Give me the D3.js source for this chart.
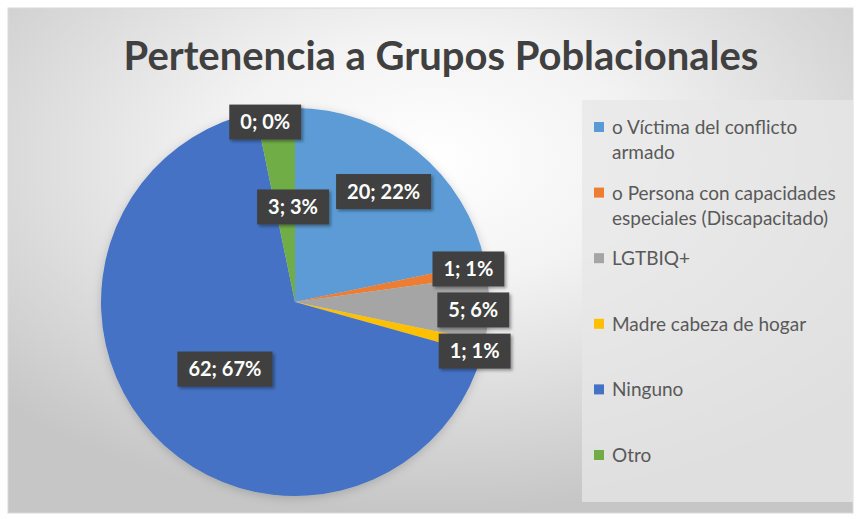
<!DOCTYPE html>
<html>
<head>
<meta charset="utf-8">
<script src="https://cdn.jsdelivr.net/npm/d3@7"></script>
<style>
  html, body { margin: 0; padding: 0; background: #ffffff; }
  svg { display: block; }
</style>
</head>
<body>
<svg id="chart" width="856" height="519"></svg>
<script>
// ---- data ----
const title = "Pertenencia a Grupos Poblacionales";
const categories = [
  "o Víctima del conflicto armado",
  "o Persona con capacidades especiales (Discapacitado)",
  "LGTBIQ+",
  "Madre cabeza de hogar",
  "Ninguno",
  "Otro",
  ""
];
const legendLines = [
  ["o Víctima del conflicto", "armado"],
  ["o Persona con capacidades", "especiales (Discapacitado)"],
  ["LGTBIQ+"],
  ["Madre cabeza de hogar"],
  ["Ninguno"],
  ["Otro"]
];
const values = [20, 1, 5, 1, 62, 3, 0];
const percentLabels = ["22%", "1%", "6%", "1%", "67%", "3%", "0%"];
const colors = ["#5B9BD5", "#ED7D31", "#A5A5A5", "#FFC000", "#4472C4", "#70AD47", "#255E91"];

// ---- layout (label placement relative to slices) ----
const labelRadiusFactor = [0.73, 0.91, 0.92, 0.96, 0.50, 0.49, 0.94];
const labelAngleShiftDeg = [-0.4, -1.0, 0.6, 1.6, -0.7, 4.7, -9.4];

const W = 856, H = 519;
const svg = d3.select("#chart");
const defs = svg.append("defs");

const bg = defs.append("radialGradient").attr("id", "bgGrad")
  .attr("cx", "50%").attr("cy", "30%").attr("r", "70%");
bg.append("stop").attr("offset", "0%").attr("stop-color", "#ffffff");
bg.append("stop").attr("offset", "35%").attr("stop-color", "#f3f3f3");
bg.append("stop").attr("offset", "100%").attr("stop-color", "#c6c6c6");

const sh = defs.append("filter").attr("id", "shadow")
  .attr("x", "-20%").attr("y", "-20%").attr("width", "140%").attr("height", "140%");
sh.append("feDropShadow").attr("dx", 2).attr("dy", 2).attr("stdDeviation", 1.5)
  .attr("flood-color", "#000").attr("flood-opacity", 0.35);

const pieShadow = defs.append("filter").attr("id", "pieShadow")
  .attr("x", "-20%").attr("y", "-20%").attr("width", "140%").attr("height", "140%");
pieShadow.append("feDropShadow").attr("dx", 0).attr("dy", 2).attr("stdDeviation", 5)
  .attr("flood-color", "#000").attr("flood-opacity", 0.18);

// frame background
svg.append("rect").attr("x", 8).attr("y", 8).attr("width", 845).attr("height", 505)
  .attr("fill", "url(#bgGrad)").attr("stroke", "#d9d9d9").attr("stroke-width", 1);

// title
const titleText = svg.append("text")
  .attr("x", 441).attr("y", 70)
  .attr("text-anchor", "middle")
  .attr("font-family", "Lato, 'Open Sans', sans-serif")
  .attr("font-weight", "bold")
  .attr("font-size", 34)
  .attr("fill", "#404040")
  .text(title);
const targetTitleW = 635;
const tw = titleText.node().getComputedTextLength();
titleText.attr("font-size", 34 * targetTitleW / tw);

// legend box
svg.append("rect").attr("x", 582).attr("y", 100).attr("width", 271).attr("height", 402)
  .attr("fill", "#e7e7e7").attr("opacity", 0.75);

// pie
const cx = 295, cy = 302, R = 194;
const pie = d3.pie().sort(null).value(d => d)(values);
const arc = d3.arc().innerRadius(0).outerRadius(R);
const g = svg.append("g").attr("transform", `translate(${cx},${cy})`);
g.append("g").attr("filter", "url(#pieShadow)")
  .selectAll("path").data(pie).join("path")
  .attr("d", arc)
  .attr("fill", (d, i) => colors[i]);

// data labels
const lab = g.append("g").selectAll("g").data(pie).join("g")
  .attr("transform", (d, i) => {
    const a = (d.startAngle + d.endAngle) / 2 + labelAngleShiftDeg[i] * Math.PI / 180;
    const r = R * labelRadiusFactor[i];
    return `translate(${r * Math.sin(a)},${-r * Math.cos(a)})`;
  });
lab.each(function(d, i) {
  const gg = d3.select(this);
  const rect = gg.append("rect").attr("fill", "#404040").attr("filter", "url(#shadow)");
  const t = gg.append("text")
    .attr("text-anchor", "middle")
    .attr("dy", "0.36em")
    .attr("font-family", "Lato, 'Open Sans', sans-serif")
    .attr("font-weight", "bold")
    .attr("font-size", 20)
    .attr("fill", "#ffffff")
    .text(`${values[i]}; ${percentLabels[i]}`);
  const w = t.node().getComputedTextLength() + 22;
  const h = 35;
  rect.attr("x", -w / 2).attr("y", -h / 2).attr("width", w).attr("height", h);
});

// legend
const ly = d3.scalePoint().domain(d3.range(legendLines.length)).range([127, 455]);
const leg = svg.append("g").selectAll("g").data(legendLines).join("g")
  .attr("transform", (d, i) => `translate(594,${ly(i)})`);
leg.append("rect").attr("x", 0).attr("y", -5).attr("width", 10).attr("height", 10)
  .attr("fill", (d, i) => colors[i]);
leg.append("text")
  .attr("x", 18).attr("y", 7)
  .attr("font-family", "Lato, 'Open Sans', sans-serif")
  .attr("font-size", 19)
  .attr("fill", "#595959")
  .selectAll("tspan").data(d => d).join("tspan")
  .attr("x", 18)
  .attr("dy", (d, j) => j === 0 ? 0 : 25)
  .text(d => d);
</script>
</body>
</html>
